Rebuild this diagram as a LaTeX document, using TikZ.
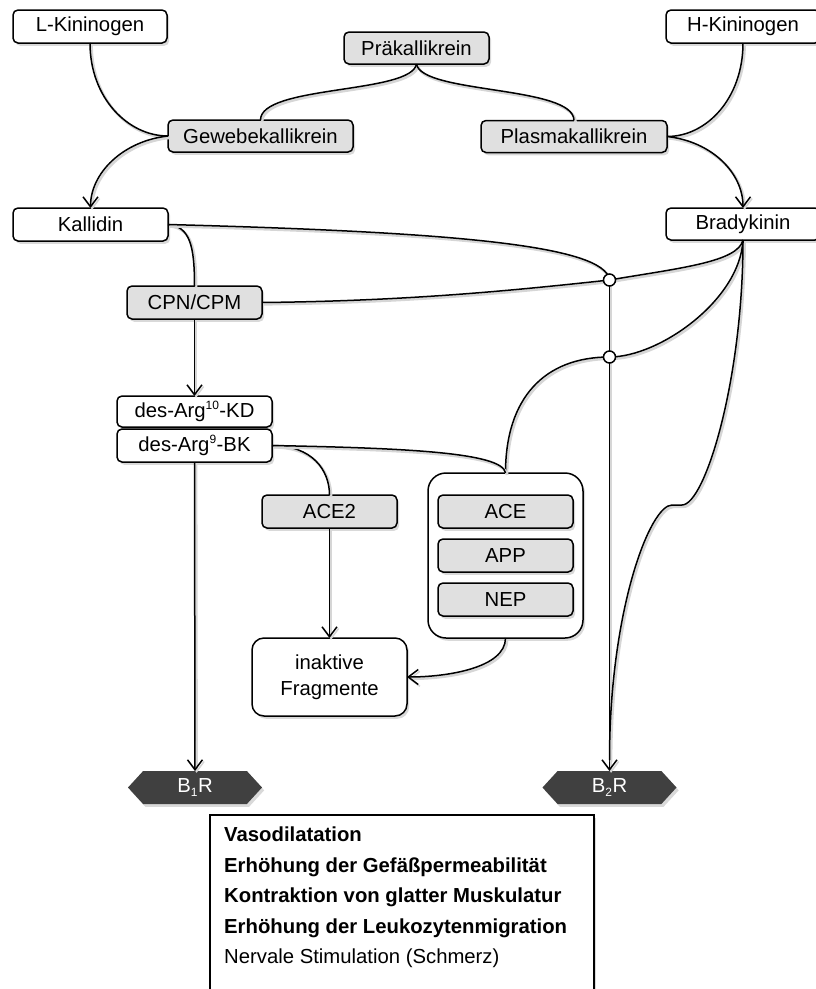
\documentclass[tikz,border=0pt]{standalone}
\usepackage{fontspec}
\setmainfont{Liberation Sans}
\usetikzlibrary{arrows.meta,shadows,shapes.symbols}
\definecolor{boxgray}{RGB}{224,224,224}
\definecolor{darkhex}{RGB}{64,64,64}
\begin{document}
\begin{tikzpicture}[x=1pt,y=-1pt,
  every node/.style={font=\fontsize{20.3pt}{24pt}\selectfont},
  shadowed/.style={drop shadow={shadow xshift=2.2pt,shadow yshift=-2.8pt,opacity=0.3}},
  basebox/.style={draw=black,line width=1.5pt,rounded corners=5pt,inner sep=0pt,outer sep=0pt,shadowed},
  wbox/.style={basebox,fill=white},
  gbox/.style={basebox,fill=boxgray},
  conn/.style={line width=1.5pt,preaction={draw=black!16,line width=2.6pt,transform canvas={xshift=1.6pt,yshift=-1.8pt}}},
  arr/.style={conn,-{Straight Barb[length=10pt,width=15pt,line width=1.5pt]}},
  jn/.style={circle,draw=black,line width=1.5pt,fill=white,inner sep=0pt,minimum size=12pt},
  rec/.style={signal,signal to=west and east,signal pointer angle=95,fill=darkhex,text=white,
              minimum width=134pt,minimum height=33pt,inner sep=0pt,outer sep=0pt,shadowed},
  efftext/.style={anchor=base west,inner sep=0pt}
]
\useasboundingbox (0,0) rectangle (815,989);

% boxes
\node[wbox,minimum width=154pt,minimum height=33pt] (lk) at (90,26.5) {L-Kininogen};
\node[gbox,minimum width=145pt,minimum height=32pt] (pk) at (416.5,48) {Präkallikrein};
\node[wbox,minimum width=154pt,minimum height=33pt] (hk) at (743,26.5) {H-Kininogen};
\node[gbox,minimum width=185pt,minimum height=32pt] (gk) at (260.5,136) {Gewebekallikrein};
\node[gbox,minimum width=186pt,minimum height=32pt] (plk) at (574,136.5) {Plasmakallikrein};
\node[wbox,minimum width=155pt,minimum height=33pt] (kd) at (90.5,224.5) {Kallidin};
\node[wbox,minimum width=154pt,minimum height=32pt] (bk) at (743,224) {Bradykinin};
\node[gbox,minimum width=135pt,minimum height=33pt] (cpn) at (194.5,302.5) {CPN/CPM};
\node[wbox,minimum width=155pt,minimum height=31pt] (da10) at (194.5,411.5) {des-Arg\textsuperscript{\fontsize{12pt}{12pt}\selectfont 10}-KD};
\node[wbox,minimum width=155pt,minimum height=33pt] (da9) at (194.5,445.5) {des-Arg\textsuperscript{\fontsize{12pt}{12pt}\selectfont 9}-BK};
\node[gbox,minimum width=135pt,minimum height=33pt] (ace2) at (329.5,511.5) {ACE2};
\node[wbox,rounded corners=18pt,minimum width=155pt,minimum height=165pt] (grp) at (505.5,555.5) {};
\node[gbox,minimum width=135pt,minimum height=33pt] (ace) at (505.5,511.5) {ACE};
\node[gbox,minimum width=135pt,minimum height=33pt] (app) at (505.5,555.5) {APP};
\node[gbox,minimum width=135pt,minimum height=33pt] (nep) at (505.5,599.5) {NEP};
\node[wbox,rounded corners=12pt,minimum width=155pt,minimum height=78pt,align=center] (frag) at (329.5,677) {inaktive\\[2pt]Fragmente};
\node[rec] (b1r) at (195,787.5) {B\textsubscript{\fontsize{12pt}{12pt}\selectfont 1}R};
\node[rec] (b2r) at (609.5,787.5) {B\textsubscript{\fontsize{12pt}{12pt}\selectfont 2}R};

% effects box
\node[draw=black,line width=1.5pt,fill=white,inner sep=0pt,outer sep=0pt,minimum width=384pt,minimum height=200pt,anchor=north west,shadowed] (eff) at (210,815) {};
\node[efftext] (e1) at (224,841.7) {\bfseries Vasodilatation};
\node[efftext] (e2) at (224,872.3) {\bfseries Erhöhung der Gefäßpermeabilität};
\node[efftext] (e3) at (224,902.7) {\bfseries Kontraktion von glatter Muskulatur};
\node[efftext] (e4) at (224,933.3) {\bfseries Erhöhung der Leukozytenmigration};
\node[efftext] (e5) at (224,963.3) {Nervale Stimulation (Schmerz)};

% junctions
\coordinate (j1) at (609.5,280);
\coordinate (j2) at (609.5,357);
\coordinate (merge) at (609.5,760);

% connectors
\draw[conn] (lk.south) .. controls +(0,55) and +(-40,0) .. (gk.west);
\draw[arr] (gk.west) .. controls +(-45,5) and +(0,-35) .. (kd.north);
\draw[conn] (pk.south) .. controls +(-5,30) and +(0,-35) .. (gk.north);
\draw[conn] (pk.south) .. controls +(5,30) and +(0,-35) .. (plk.north);
\draw[conn] (hk.south) .. controls +(0,55) and +(40,0) .. (plk.east);
\draw[arr] (plk.east) .. controls +(45,5) and +(0,-35) .. (bk.north);
\draw[conn] (kd.east) .. controls +(22,2) and +(0,-40) .. (cpn.north);
\draw[arr] (cpn.south) -- (da10.north);
\draw[conn] (kd.east) .. controls (450,232) and (605,245) .. (j1);
\draw[conn] (cpn.east) .. controls (400,301) and (500,292) .. (j1);
\draw[conn] (j1) .. controls (680,268) and (738,262) .. (bk.south);
\draw[conn] (bk.south) .. controls +(-3,60) and +(50,0) .. (j2);
\draw[conn] (j2) .. controls +(-65,0) and +(0,-75) .. (grp.north);
\draw[arr] (j1) -- (b2r.north);
\draw[conn] (bk.south) .. controls +(0,140) and +(23,0) .. (682,505) -- (672,505) .. controls +(-22,0) and +(0,-150) .. (merge);
\draw[conn] (da9.east) .. controls +(40,0) and +(0,-25) .. (ace2.north);
\draw[conn] (da9.east) .. controls (400,448) and (503,452) .. (grp.north);
\draw[arr] (ace2.south) -- (frag.north);
\draw[arr] (grp.south) .. controls +(0,30) and +(40,0) .. (frag.east);
\draw[arr] (da9.south) -- (b1r.north);

\node[jn] (j1c) at (j1) {};
\node[jn] (j2c) at (j2) {};
\end{tikzpicture}
\end{document}
